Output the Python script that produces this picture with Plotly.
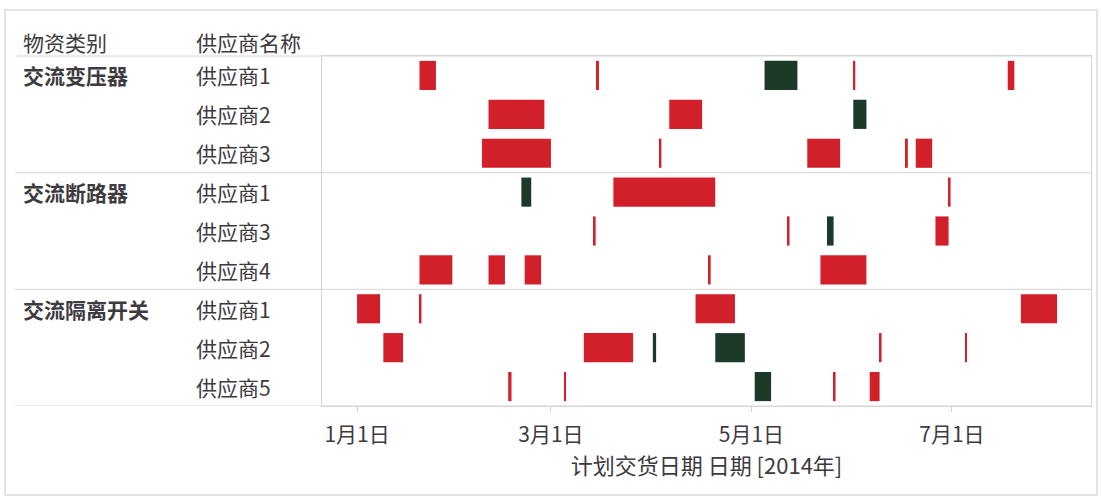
import plotly.graph_objects as go

# Row structure: material category and supplier for each row (top to bottom)
row_categories = ["交流变压器", "交流变压器", "交流变压器",
                  "交流断路器", "交流断路器", "交流断路器",
                  "交流隔离开关", "交流隔离开关", "交流隔离开关"]
row_suppliers = ["供应商1", "供应商2", "供应商3",
                 "供应商1", "供应商3", "供应商4",
                 "供应商1", "供应商2", "供应商5"]

# Deliveries: row index, planned start date, duration (days), status
task_row = [0, 0, 0, 0, 0,
            1, 1, 1,
            2, 2, 2, 2, 2,
            3, 3, 3,
            4, 4, 4, 4,
            5, 5, 5, 5, 5,
            6, 6, 6, 6,
            7, 7, 7, 7, 7, 7,
            8, 8, 8, 8, 8]
task_start = ["2014-01-20", "2014-03-15", "2014-05-05", "2014-06-01", "2014-07-18",
              "2014-02-10", "2014-04-06", "2014-06-01",
              "2014-02-08", "2014-04-03", "2014-05-18", "2014-06-17", "2014-06-20",
              "2014-02-20", "2014-03-20", "2014-06-30",
              "2014-03-14", "2014-05-12", "2014-05-24", "2014-06-26",
              "2014-01-20", "2014-02-10", "2014-02-21", "2014-04-18", "2014-05-22",
              "2014-01-01", "2014-01-20", "2014-04-14", "2014-07-22",
              "2014-01-09", "2014-03-11", "2014-04-01", "2014-04-20", "2014-06-09", "2014-07-05",
              "2014-02-16", "2014-03-05", "2014-05-02", "2014-05-26", "2014-06-06"]
task_days = [5, 0.6, 10, 0.6, 2,
             17, 10, 4,
             21, 0.6, 10, 0.6, 5,
             3, 31, 0.6,
             0.6, 0.6, 2, 4,
             10, 5, 5, 0.6, 14,
             7, 0.6, 12, 11,
             6, 15, 1, 9, 0.6, 0.6,
             1, 0.6, 5, 0.6, 3]
task_status = ["延迟", "延迟", "按期", "延迟", "延迟",
               "延迟", "延迟", "按期",
               "延迟", "延迟", "延迟", "延迟", "延迟",
               "按期", "延迟", "延迟",
               "延迟", "延迟", "按期", "延迟",
               "延迟", "延迟", "延迟", "延迟", "延迟",
               "延迟", "延迟", "延迟", "延迟",
               "延迟", "延迟", "按期", "按期", "延迟", "延迟",
               "延迟", "延迟", "按期", "延迟", "延迟"]

tick_dates = ["2014-01-01", "2014-03-01", "2014-05-01", "2014-07-01"]
tick_labels = ["1月1日", "3月1日", "5月1日", "7月1日"]

status_colors = {"延迟": "#d2202b", "按期": "#1b3a28"}

FONT = "Noto Sans CJK SC, Microsoft YaHei, sans-serif"
TEXT = "#3d3a40"
LINE = "#d6d4d8"
FS = 21

# Plot-area geometry in pixels (for placing labels/lines outside the axes)
W, H = 1101, 496
L, R, T, B = 322, 1091, 56, 406


def px_x(p):
    return (p - L) / (R - L)


def px_y(p):
    return (B - p) / (B - T)


DAY_MS = 24 * 3600 * 1000

fig = go.Figure()
for status, color in status_colors.items():
    idx = [i for i, s in enumerate(task_status) if s == status]
    fig.add_trace(go.Bar(
        orientation="h",
        y=[task_row[i] for i in idx],
        base=[task_start[i] for i in idx],
        x=[task_days[i] * DAY_MS for i in idx],
        marker=dict(color=color, line=dict(width=0)),
        width=0.75,
        name=status,
        showlegend=False,
        hoverinfo="skip",
    ))

n_rows = len(row_suppliers)
annotations = []
# Column headers
annotations.append(dict(text="物资类别", xref="paper", yref="paper", x=px_x(21), y=px_y(42),
                        xanchor="left", yanchor="middle", showarrow=False,
                        font=dict(family=FONT, size=FS, color=TEXT)))
annotations.append(dict(text="供应商名称", xref="paper", yref="paper", x=px_x(194), y=px_y(42),
                        xanchor="left", yanchor="middle", showarrow=False,
                        font=dict(family=FONT, size=FS, color=TEXT)))
# Row labels
for i, (cat, sup) in enumerate(zip(row_categories, row_suppliers)):
    if i == 0 or row_categories[i - 1] != cat:
        annotations.append(dict(text="<b>" + cat + "</b>", xref="paper", yref="y", x=px_x(21), y=i,
                                xanchor="left", yanchor="middle", showarrow=False,
                                font=dict(family=FONT, size=FS, color=TEXT)))
    annotations.append(dict(text=sup, xref="paper", yref="y", x=px_x(194), y=i,
                            xanchor="left", yanchor="middle", showarrow=False,
                            font=dict(family=FONT, size=FS, color=TEXT)))

shapes = []
# Header rule and group separators spanning the label columns
shapes.append(dict(type="line", xref="paper", yref="paper", x0=px_x(15), x1=1, y0=1, y1=1,
                   line=dict(color=LINE, width=1)))
for i in range(1, n_rows + 1):
    if i == n_rows or row_categories[i] != row_categories[i - 1]:
        shapes.append(dict(type="line", xref="paper", yref="y", x0=px_x(15), x1=1,
                           y0=i - 0.5, y1=i - 0.5, line=dict(color=LINE, width=1)))
# Outer frame
shapes.append(dict(type="rect", xref="paper", yref="paper",
                   x0=px_x(5), x1=px_x(1097), y0=px_y(495), y1=px_y(10),
                   line=dict(color="#dcd8e0", width=1.5), layer="below"))

fig.update_layout(
    width=W, height=H,
    margin=dict(l=L, r=W - R, t=T, b=H - B),
    plot_bgcolor="white", paper_bgcolor="white",
    barmode="overlay",
    annotations=annotations,
    shapes=shapes,
    font=dict(family=FONT, color=TEXT),
)
fig.update_xaxes(
    type="date",
    range=["2013-12-21 08:00", "2014-08-12 08:00"],
    tickvals=tick_dates, ticktext=tick_labels,
    tickfont=dict(family=FONT, size=FS, color=TEXT),
    ticks="outside", ticklen=5, tickcolor=LINE,
    ticklabelstandoff=5,
    showgrid=False, zeroline=False,
    showline=True, linecolor=LINE, mirror=True,
    title=dict(text="计划交货日期 日期 [2014年]", font=dict(family=FONT, size=22, color=TEXT),
               standoff=10),
)
fig.update_yaxes(
    range=[n_rows - 0.5, -0.5],
    showticklabels=False, showgrid=False, zeroline=False,
    showline=True, linecolor=LINE, mirror=True,
)

fig.write_html("out.html")
